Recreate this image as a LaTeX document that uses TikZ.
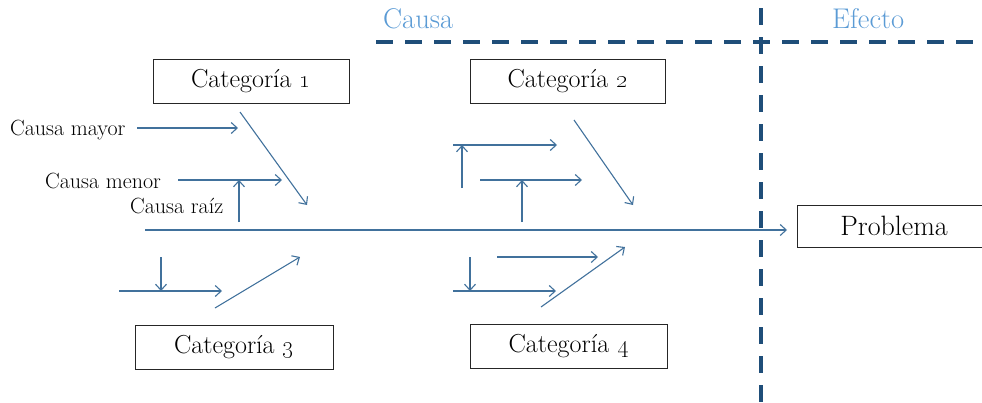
\documentclass[tikz,border=0pt]{standalone}
\usetikzlibrary{arrows.meta}
\definecolor{bone}{HTML}{41719C}
\definecolor{divider}{HTML}{1F4E79}
\definecolor{zone}{HTML}{5B9BD5}
\begin{document}
\begin{tikzpicture}[x=1pt,y=-1pt,
  arr/.style={draw=bone, line width=1.1pt, -{Straight Barb[length=6pt,width=11pt]}},
  catbox/.style={draw=black!85, line width=0.9pt, minimum height=44pt, inner sep=0pt,
    font=\fontsize{26}{30}\selectfont},
  lbl/.style={font=\fontsize{22}{26}\selectfont, inner sep=0pt},
  divline/.style={draw=divider, line width=4pt, dash pattern=on 17pt off 12pt},
  zonelbl/.style={text=zone, font=\fontsize{28.5}{32}\selectfont, inner sep=0pt}]
\useasboundingbox (0,0) rectangle (982,402);

% cause / effect dividers
\coordinate (hA) at (376,42);
\coordinate (hB) at (982,42);
\coordinate (vA) at (761,8);
\coordinate (vB) at (761,402);
\draw[divline] (hA) -- (hB);
\draw[divline] (vA) -- (vB);
\node[zonelbl, anchor=base west] (causa) at (383,28) {Causa};
\node[zonelbl, anchor=base west] (efecto) at (832,28) {Efecto};

% category boxes
\node[catbox, minimum width=196pt] (cat1) at (251,81) {Categoría \oldstylenums{1}};
\node[catbox, minimum width=195pt] (cat2) at (567.5,81) {Categoría \oldstylenums{2}};
\node[catbox, minimum width=198pt] (cat3) at (234,347) {Categoría \oldstylenums{3}};
\node[catbox, minimum width=197pt] (cat4) at (568.5,346) {Categoría \oldstylenums{4}};
\node[catbox, minimum width=194pt, minimum height=42pt, font=\fontsize{28}{32}\selectfont] (prob) at (894,226) {Problema};

% spine
\coordinate (tail) at (145,230);
\coordinate (head) at (787,230);
\draw[arr] (tail) -- (head);

% category 1 branch
\node[lbl, anchor=base west] (mayor) at (10,135) {Causa mayor};
\node[lbl, anchor=base west] (menor) at (45,188) {Causa menor};
\node[lbl, anchor=base west] (raiz) at (130,213) {Causa raíz};
\coordinate (m1a) at (137,128); \coordinate (m1b) at (238,128);
\coordinate (n1a) at (178,180); \coordinate (n1b) at (282,180);
\coordinate (r1a) at (239,222); \coordinate (r1b) at (239,180);
\coordinate (d1a) at (240,112); \coordinate (d1b) at (307,205);
\draw[arr] (m1a) -- (m1b);
\draw[arr] (n1a) -- (n1b);
\draw[arr] (r1a) -- (r1b);
\draw[arr] (d1a) -- (d1b);

% category 2 branch
\coordinate (m2a) at (453,145); \coordinate (m2b) at (557,145);
\coordinate (r2a) at (462,188); \coordinate (r2b) at (462,145);
\coordinate (n2a) at (480,180); \coordinate (n2b) at (582,180);
\coordinate (s2a) at (522,222); \coordinate (s2b) at (522,180);
\coordinate (d2a) at (574,120); \coordinate (d2b) at (633,205);
\draw[arr] (m2a) -- (m2b);
\draw[arr] (r2a) -- (r2b);
\draw[arr] (n2a) -- (n2b);
\draw[arr] (s2a) -- (s2b);
\draw[arr] (d2a) -- (d2b);

% category 3 branch
\coordinate (r3a) at (161,257); \coordinate (r3b) at (161,291);
\coordinate (m3a) at (119,291); \coordinate (m3b) at (222,291);
\coordinate (d3a) at (215,308); \coordinate (d3b) at (300,257);
\draw[arr] (r3a) -- (r3b);
\draw[arr] (m3a) -- (m3b);
\draw[arr] (d3a) -- (d3b);

% category 4 branch
\coordinate (n4a) at (497,257); \coordinate (n4b) at (598,257);
\coordinate (r4a) at (470,257); \coordinate (r4b) at (470,291);
\coordinate (m4a) at (453,291); \coordinate (m4b) at (556,291);
\coordinate (d4a) at (541,307); \coordinate (d4b) at (625,247);
\draw[arr] (n4a) -- (n4b);
\draw[arr] (r4a) -- (r4b);
\draw[arr] (m4a) -- (m4b);
\draw[arr] (d4a) -- (d4b);
\end{tikzpicture}
\end{document}
